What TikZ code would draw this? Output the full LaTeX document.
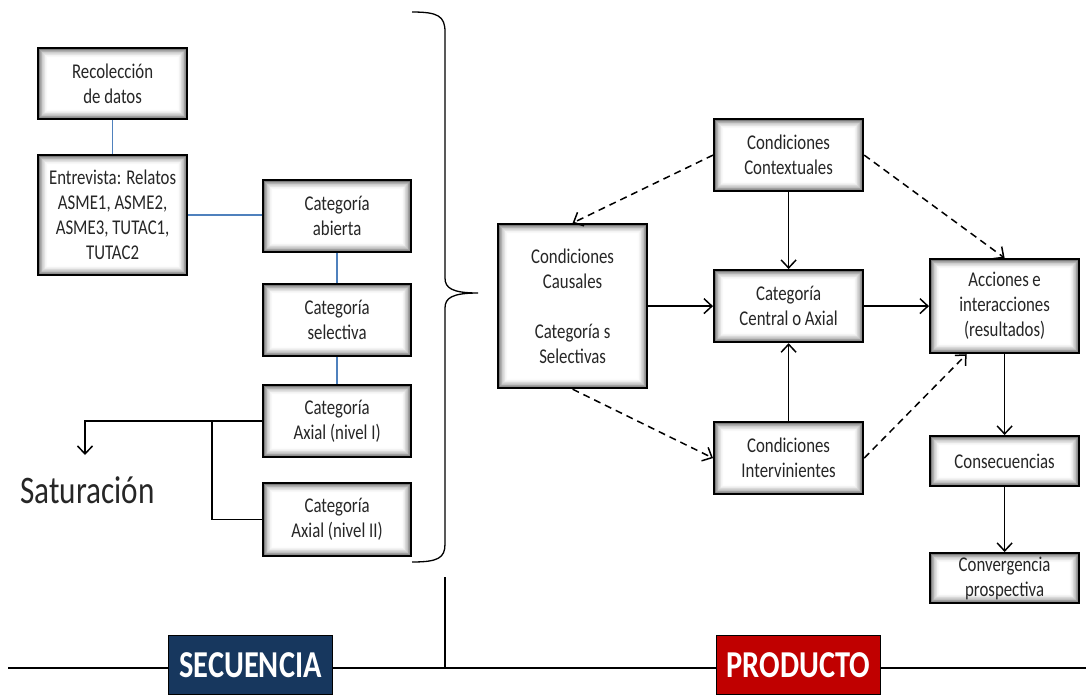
\documentclass[tikz,border=0pt]{standalone}
\usepackage{fontspec}
\setmainfont{Carlito}[FakeStretch=0.8]
\usetikzlibrary{arrows.meta,calc}
\definecolor{seqblue}{HTML}{17375E}
\definecolor{prodred}{HTML}{C00000}
\definecolor{linkblue}{HTML}{4F81BD}
\begin{document}
\begin{tikzpicture}[x=1pt,y=-1pt,
  box/.style={draw=black, line width=2.2pt, fill=white, anchor=north west, align=center,
    inner sep=1pt, font=\fontsize{21}{25}\selectfont, text=black!85,
    path picture={\foreach \i in {0,...,13}{
      \pgfmathsetmacro{\d}{0.6+0.7*\i}
      \pgfmathsetmacro{\c}{60*(1-\i/14)^2}
      \draw[black!\c, line width=0.9pt]
        ($(path picture bounding box.north west)+(\d pt,-\d pt)$) rectangle
        ($(path picture bounding box.south east)+(-\d pt,\d pt)$);}}},
  bl/.style={draw=linkblue, line width=1.5pt},
  ln/.style={draw=black, line width=1.5pt},
  arr/.style={ln, -{Straight Barb[length=8pt,width=15pt,line width=1.5pt]}},
  darr/.style={arr, dash pattern=on 7pt off 5pt},
  tag/.style={draw=black, line width=1pt, anchor=north west, minimum width=164pt,
    minimum height=59pt, text=white, font=\bfseries\fontsize{38}{40}\selectfont}
]
\useasboundingbox (0,0) rectangle (1086,694);

% left boxes
\node[box, minimum width=149pt, minimum height=71pt] (rec) at (37,47) {Recolección\\de datos};
\node[box, minimum width=149pt, minimum height=120pt] (ent) at (37,154) {Entrevista: Relatos\\ASME1, ASME2,\\ASME3, TUTAC1,\\TUTAC2};
\node[box, minimum width=148pt, minimum height=72pt] (abi) at (262,179) {Categoría\\abierta};
\node[box, minimum width=148pt, minimum height=72pt] (sel) at (262,283) {Categoría\\selectiva};
\node[box, minimum width=148pt, minimum height=72pt] (axa) at (262,384) {Categoría\\Axial (nivel I)};
\node[box, minimum width=148pt, minimum height=73pt] (axb) at (262,482) {Categoría\\Axial (nivel II)};

\draw[bl] (rec) -- (ent);
\draw[bl] (ent.east) -- (ent.east -| abi.west);
\draw[bl] (abi) -- (sel);
\draw[bl] (sel) -- (axa);

\coordinate (sat) at (85,455);
\coordinate (jn) at ($(axa.west)+(-50pt,0)$);
\draw[arr] (axa.west) -| (sat);
\draw[ln] (jn) |- (axb.west);
\node[anchor=west, font=\fontsize{39}{44}\selectfont, text=black!85, inner sep=0pt] (satt) at (20,490) {Saturación};

% brace
\coordinate (bt) at (412,12);
\coordinate (btip) at (478,293);
\coordinate (bb) at (412,562);
\draw[line width=1.3pt] (bt) .. controls (438,12) and (445,16) .. (445,32) -- (445,278)
  .. controls (445,288) and (452,293) .. (btip)
  .. controls (452,293) and (445,298) .. (445,308) -- (445,544)
  .. controls (445,558) and (438,562) .. (bb);

% right boxes
\node[box, minimum width=149pt, minimum height=72pt] (ctx) at (713,118) {Condiciones\\Contextuales};
\node[box, minimum width=149pt, minimum height=164pt] (cau) at (497,223) {Condiciones\\Causales\\[25pt]Categoría s\\Selectivas};
\node[box, minimum width=149pt, minimum height=72pt] (cen) at (713,269) {Categoría\\Central o Axial};
\node[box, minimum width=149pt, minimum height=72pt] (int) at (713,421) {Condiciones\\Intervinientes};
\node[box, minimum width=149pt, minimum height=94pt] (acc) at (929,258) {Acciones\,e\\interacciones\\(resultados)};
\node[box, minimum width=149pt, minimum height=50pt] (con) at (929,435) {Consecuencias};
\node[box, minimum width=149pt, minimum height=50pt] (conv) at (929,552) {Convergencia\\prospectiva};

\draw[arr] (ctx) -- (cen);
\draw[arr] (int) -- (cen);
\draw[arr] (cau) -- (cen);
\draw[arr] (cen) -- (acc);
\draw[arr] (acc) -- (con);
\draw[arr] (con) -- (conv);
\coordinate (accin) at ($(acc.south)+(-38pt,0)$);
\draw[darr] (ctx.west) -- (cau.north);
\draw[darr] (ctx.east) -- (acc.north);
\draw[darr] (cau.south) -- (int.west);
\draw[darr] (int.east) -- (accin);

% bottom axis
\coordinate (vt) at (445,577);
\coordinate (vb) at (445,668);
\coordinate (al) at (8,668);
\coordinate (ar) at (1086,668);
\draw[line width=1.3pt] (vt) -- (vb);
\draw[line width=2.5pt] (al) -- (ar);
\node[tag, fill=seqblue] (seq) at (168,635) {SECUENCIA};
\node[tag, fill=prodred] (prod) at (716,635) {PRODUCTO};
\end{tikzpicture}
\end{document}
